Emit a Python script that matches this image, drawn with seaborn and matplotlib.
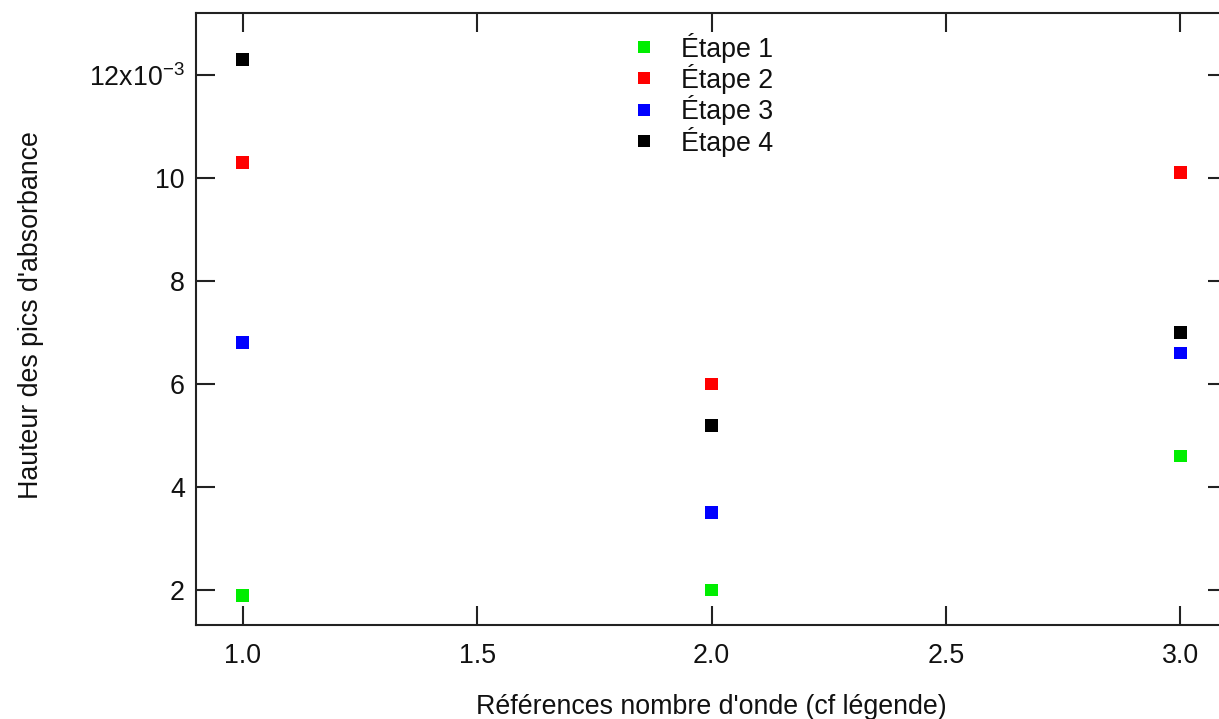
import pandas as pd
import numpy as np
import matplotlib
matplotlib.use('Agg')
import matplotlib.pyplot as plt
import seaborn as sns
from matplotlib.ticker import FixedLocator, FuncFormatter

# valeurs (unité : 1e-3)
references = [1.0, 2.0, 3.0]
etapes = ['Étape 1', 'Étape 2', 'Étape 3', 'Étape 4']
etape1 = [1.9, 2.0, 4.6]
etape2 = [10.3, 6.0, 10.1]
etape3 = [6.8, 3.5, 6.6]
etape4 = [12.3, 5.2, 7.0]
couleurs = ['#00ee00', '#ff0000', '#0000ff', '#000000']

rows = []
for etape, vals in zip(etapes, [etape1, etape2, etape3, etape4]):
    for x, v in zip(references, vals):
        rows.append({'ref': x, 'hauteur': v * 1e-3, 'etape': etape})
data = pd.DataFrame(rows)

sns.set_style('white')
plt.rcParams['font.family'] = ['Liberation Sans', 'DejaVu Sans']
plt.rcParams['mathtext.fontset'] = 'custom'
plt.rcParams['mathtext.rm'] = 'Liberation Sans'
plt.rcParams['mathtext.default'] = 'regular'
plt.rcParams['text.color'] = '#111111'
plt.rcParams['axes.labelcolor'] = '#111111'
plt.rcParams['xtick.color'] = '#222222'
plt.rcParams['ytick.color'] = '#222222'

fig = plt.figure(figsize=(12.19, 7.19), dpi=100)
W, H = 1219, 719
ax = fig.add_axes([196 / W, (H - 625) / H, (1227 - 196) / W, (625 - 13) / H])

sns.scatterplot(data=data, x='ref', y='hauteur', hue='etape', palette=couleurs,
                marker='s', s=85, linewidth=0, ax=ax)

ax.set_xlim(0.9, 3.1)
ax.set_ylim(1.32e-3, 13.2e-3)
ax.xaxis.set_major_locator(FixedLocator([1.0, 1.5, 2.0, 2.5, 3.0]))
ax.xaxis.set_major_formatter(FuncFormatter(lambda v, p: '%.1f' % v))
ax.yaxis.set_major_locator(FixedLocator([2e-3, 4e-3, 6e-3, 8e-3, 10e-3, 12e-3]))


def fmt_y(v, p):
    n = int(round(v * 1e3))
    if n == 12:
        return '12x10$^{-3}$'
    return str(n)


ax.yaxis.set_major_formatter(FuncFormatter(fmt_y))

for s in ax.spines.values():
    s.set_visible(True)
    s.set_color('#222222')
    s.set_linewidth(1.5)
ax.tick_params(direction='in', length=14, width=1.5, color='#222222',
               top=True, right=True, bottom=True, left=True,
               labelsize=19.3, labelcolor='#111111')
ax.tick_params(axis='x', pad=13)
ax.tick_params(axis='y', pad=8)

ax.set_xlabel("Références nombre d'onde (cf légende)", fontsize=19.3)
ax.set_ylabel("Hauteur des pics d'absorbance", fontsize=19.3)
ax.xaxis.set_label_coords(0.5, -0.113)
ax.yaxis.set_label_coords(-0.147, 0.507)

ax.legend(loc='upper left', bbox_to_anchor=(0.396, 0.99), frameon=False,
          fontsize=19.3, title=None, markerscale=1.0, handletextpad=0.35,
          labelspacing=0.05, borderpad=0)

fig.savefig('out.png', dpi=100)
